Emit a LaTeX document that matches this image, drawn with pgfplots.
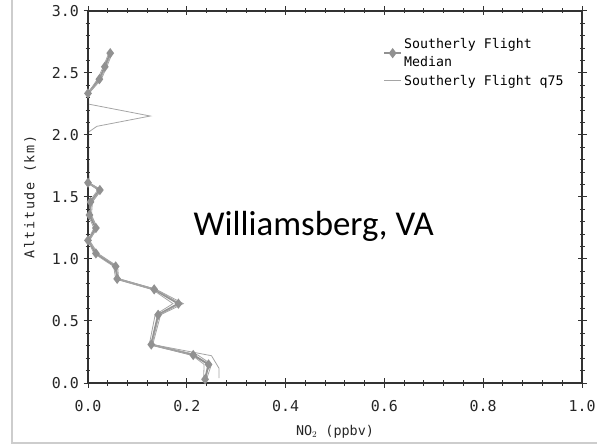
\documentclass[border=0pt]{standalone}
\usepackage{fontspec}
\setmonofont{DejaVu Sans Mono}
\newfontfamily\carlito{Carlito}
\usepackage{pgfplots}
\pgfplotsset{compat=1.18}
\usepackage{pgfplotstable}
\definecolor{medgray}{RGB}{145,145,145}
\definecolor{thingray}{RGB}{165,165,165}
\definecolor{axgray}{RGB}{50,50,50}
\definecolor{framegray}{RGB}{205,205,205}

\pgfplotstableread{
alt no2
0.03 0.237
0.15 0.244
0.226 0.213
0.31 0.128
0.55 0.142
0.64 0.183
0.755 0.134
0.84 0.059
0.94 0.056
1.045 0.016
1.15 0.000
1.25 0.016
1.355 0.003
1.46 0.005
1.556 0.024
1.615 0.000
2.336 0.000
2.45 0.023
2.55 0.034
2.66 0.045
}\median

\pgfplotstableread{
alt no2
0.04 0.265
0.12 0.265
0.22 0.250
0.31 0.131
0.55 0.147
0.64 0.193
0.755 0.138
0.84 0.062
0.94 0.060
1.045 0.020
1.15 0.003
1.25 0.019
1.355 0.007
1.46 0.009
1.556 0.027
1.615 0.002
2.02 0.000
2.07 0.018
2.153 0.126
2.25 0.000
2.336 0.002
2.45 0.027
2.55 0.038
2.66 0.049
}\qsevfive

\pgfplotstableread{
alt no2
0.03 0.234
0.15 0.235
0.226 0.210
0.31 0.124
0.55 0.136
0.64 0.172
0.755 0.130
0.84 0.056
0.94 0.052
1.045 0.012
1.15 0.000
1.25 0.012
1.355 0.000
1.46 0.002
1.556 0.020
1.615 0.000
2.336 0.000
2.45 0.019
2.55 0.031
2.66 0.042
}\qtwofive

\pgfplotstableread{
alt no2
0.03 0.240
0.15 0.250
0.226 0.222
0.31 0.129
0.55 0.144
0.64 0.186
0.755 0.136
0.84 0.060
0.94 0.058
1.045 0.018
1.15 0.002
1.25 0.018
1.355 0.005
1.46 0.007
1.556 0.025
1.615 0.001
2.336 0.001
2.45 0.025
2.55 0.036
2.66 0.047
}\meanprof

\begin{document}
\begin{tikzpicture}
\useasboundingbox (0,0) rectangle (597bp,445bp);
\draw[framegray, line width=1.2bp] (12bp,445bp) -- (12bp,2bp) -- (597bp,2bp);
\begin{axis}[
  at={(88bp,62bp)}, anchor=south west,
  scale only axis, width=494bp, height=372bp,
  xmin=0, xmax=1, ymin=0, ymax=3,
  xtick={0,0.2,...,1.0}, ytick={0,0.5,...,3.0},
  minor x tick num=4, minor y tick num=4,
  tick align=center,
  major tick length=9bp, minor tick length=5bp,
  every tick/.style={axgray, line width=1bp},
  axis line style={axgray, line width=1.2bp},
  axis on top,
  /pgf/number format/assume math mode=true,
  xticklabel style={yshift=-9bp, /pgf/number format/.cd, fixed, fixed zerofill, precision=1},
  yticklabel style={xshift=-1bp, /pgf/number format/.cd, fixed, fixed zerofill, precision=1},
  tick label style={font=\ttfamily\fontsize{15}{16}\selectfont, text=black!85},
  xlabel={NO$_2$ (ppbv)},
  ylabel={\addfontfeatures{LetterSpace=12}Altitude (km)},
  every axis x label/.style={at={(axis description cs:0.5,-0.132)}, anchor=center},
  every axis y label/.style={at={(axis description cs:-0.117,0.5)}, anchor=center, rotate=90},
  label style={font=\ttfamily\fontsize{13.5}{15}\selectfont, text=black!85},
  legend style={at={(0.595,0.935)}, anchor=north west, draw=none, fill=none,
    font=\ttfamily\fontsize{13.3}{18}\selectfont, cells={align=left}, row sep=3bp, inner sep=1bp},
  legend cell align=left,
]
\addplot[medgray, line width=2bp, mark=diamond*, mark size=3.5bp, mark options={solid, fill=medgray}] table[x=no2, y=alt] {\median};
\addlegendentry{Southerly Flight\\Median}
\addplot[thingray, line width=0.8bp] table[x=no2, y=alt] {\qsevfive};
\addlegendentry{Southerly Flight q75}
\addplot[thingray, line width=0.8bp, forget plot] table[x=no2, y=alt] {\qtwofive};
\addplot[thingray, line width=0.8bp, forget plot] table[x=no2, y=alt] {\meanprof};
\node[anchor=base, font=\carlito\fontsize{35}{40}\selectfont] at (axis cs:0.457,1.19) {Williamsberg, VA};
\end{axis}
\end{tikzpicture}
\end{document}
